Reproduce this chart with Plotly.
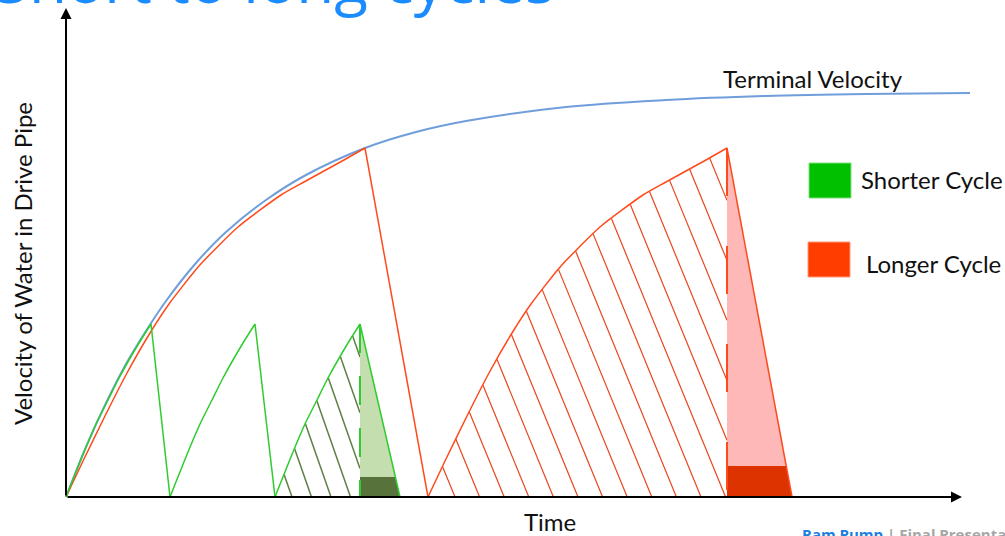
import numpy as np
import plotly.graph_objects as go

W, H = 1005, 536

# ---- data (time, velocity in arbitrary units) ----
terminal_t = [0, 2, 4, 6, 8, 10, 13, 16, 20, 24, 29.9, 35, 40, 50, 60, 70, 80, 90.4]
terminal_v = [0, 5.0, 9.4, 13.3, 16.6, 19.6, 23.4, 26.5, 29.7, 32.2, 34.9, 36.5, 37.6, 39.0, 39.7, 40.1, 40.3, 40.4]

# longer cycle: acceleration phase shape, start of each cycle, time velocity returns to zero
long_rise_dt = [0, 1.7, 3.9, 6.1, 8.4, 10.3, 13.3, 17.2, 21.5, 23.8, 27.8, 29.9]
long_rise_v = [0, 3.6, 8.1, 12.4, 16.4, 19.3, 23.1, 27.0, 30.2, 31.5, 33.7, 34.9]
long_starts = [0, 36.2]
long_ends = [36.2, 72.6]
long_pump_v = 3.1  # height of the delivery band under the last long cycle

# shorter cycle
short_rise_dt = [0, 1.8, 3.0, 4.2, 5.3, 7.3, 8.5]
short_rise_v = [0, 4.5, 7.3, 9.7, 11.9, 15.4, 17.3]
short_starts = [0, 10.4, 20.9]
short_ends = [10.4, 20.9, 33.4]
short_pump_v = 2.0

# axis extents
T_MIN, T_MAX = -6.6, 93.9
V_MIN, V_MAX = -3.9, 49.7
T_ARROW, V_ARROW = 89.6, 48.9

# colours
BLUE = "#6f9edb"
RED = "#ff4a1c"
GREEN = "#2ecc2e"
RED_HATCH = "#e8461e"
GREEN_HATCH = "#5e7f45"
PINK = "#ffb8b8"
RED_DARK = "#dc3300"
LIGHT_GREEN = "#c4deb0"
GREEN_DARK = "#57733b"
FONT = "Lato"
TEXT_SIZE = 24


def px_x(p):
    return p / W


def px_y(p):
    return 1 - p / H


def hatch(start, dt, v, slope, offsets):
    rise_t = start + np.asarray(dt, float)
    rise_v = np.asarray(v, float)
    peak_t = rise_t[-1]
    vv = np.linspace(0, rise_v.max(), 3000)
    xs, ys = [], []
    for b in offsets:
        tt = b - slope * vv
        curve = np.interp(tt, rise_t, rise_v)
        inside = (tt >= rise_t[0]) & (tt <= peak_t) & (vv <= curve)
        idx = np.nonzero(inside)[0]
        if len(idx) < 2:
            continue
        i0, i1 = idx[0], idx[-1]
        xs += [tt[i0], tt[i1], None]
        ys += [vv[i0], vv[i1], None]
    return xs, ys


def release_fill(peak_t, peak_v, end_t, band_v):
    # light triangle under the deceleration line and the dark band at its foot
    tri_x = [peak_t, peak_t, end_t, peak_t]
    tri_y = [peak_v, 0, 0, peak_v]
    band_t = end_t - band_v / peak_v * (end_t - peak_t)
    band_x = [peak_t, peak_t, band_t, end_t, peak_t]
    band_y = [0, band_v, band_v, 0, 0]
    return tri_x, tri_y, band_x, band_y


def add_cycles(fig, starts, ends, dt, v, color, name):
    # smooth acceleration curves
    for s in starts:
        fig.add_trace(go.Scatter(x=[s + d for d in dt], y=v, mode="lines",
                                 line=dict(color=color, width=1.5, shape="spline", smoothing=0.6),
                                 name=name, showlegend=False))
    # straight deceleration lines after each valve closure
    xs, ys = [], []
    for s, e in zip(starts, ends):
        xs += [s + dt[-1], e, None]
        ys += [v[-1], 0, None]
    fig.add_trace(go.Scatter(x=xs, y=ys, mode="lines", line=dict(color=color, width=1.5),
                             name=name, showlegend=False))


fig = go.Figure()

# hatched acceleration areas
lp_start = long_starts[-1]
lx, ly = hatch(lp_start, long_rise_dt, long_rise_v, 0.41, [38.9 + 2.46 * k for k in range(17)])
fig.add_trace(go.Scatter(x=lx, y=ly, mode="lines", line=dict(color=RED_HATCH, width=1.2),
                         hoverinfo="skip", showlegend=False))
sp_start = short_starts[-1]
gx, gy = hatch(sp_start, short_rise_dt, short_rise_v, 0.35, [22.6 + 1.95 * k for k in range(7)])
fig.add_trace(go.Scatter(x=gx, y=gy, mode="lines", line=dict(color=GREEN_HATCH, width=1.5),
                         hoverinfo="skip", showlegend=False))

# release triangles
lpk_t = lp_start + long_rise_dt[-1]
tx, ty, bx, by = release_fill(lpk_t, long_rise_v[-1], long_ends[-1], long_pump_v)
fig.add_trace(go.Scatter(x=tx, y=ty, mode="lines", fill="toself", fillcolor=PINK,
                         line=dict(width=0), hoverinfo="skip", showlegend=False))
fig.add_trace(go.Scatter(x=bx, y=by, mode="lines", fill="toself", fillcolor=RED_DARK,
                         line=dict(width=0), hoverinfo="skip", showlegend=False))
spk_t = sp_start + short_rise_dt[-1]
tx, ty, bx, by = release_fill(spk_t, short_rise_v[-1], short_ends[-1], short_pump_v)
fig.add_trace(go.Scatter(x=tx, y=ty, mode="lines", fill="toself", fillcolor=LIGHT_GREEN,
                         line=dict(width=0), hoverinfo="skip", showlegend=False))
fig.add_trace(go.Scatter(x=bx, y=by, mode="lines", fill="toself", fillcolor=GREEN_DARK,
                         line=dict(width=0), hoverinfo="skip", showlegend=False))

# dashed valve-closing markers
fig.add_trace(go.Scatter(x=[lpk_t, lpk_t], y=[long_rise_v[-1], 0], mode="lines",
                         line=dict(color=RED, width=2, dash="48px,50px"),
                         hoverinfo="skip", showlegend=False))
fig.add_trace(go.Scatter(x=[spk_t, spk_t], y=[short_rise_v[-1], 0], mode="lines",
                         line=dict(color=GREEN, width=2, dash="29px,23px"),
                         hoverinfo="skip", showlegend=False))

# terminal velocity curve
fig.add_trace(go.Scatter(x=terminal_t, y=terminal_v, mode="lines",
                         line=dict(color=BLUE, width=2, shape="spline"),
                         name="Terminal Velocity", showlegend=False))

# cycles
add_cycles(fig, long_starts, long_ends, long_rise_dt, long_rise_v, RED, "Longer Cycle")
add_cycles(fig, short_starts, short_ends, short_rise_dt, short_rise_v, GREEN, "Shorter Cycle")

txt = dict(family=FONT, size=TEXT_SIZE, color="#111111")
annotations = [
    # axes arrows
    dict(x=T_ARROW, y=0, ax=0, ay=0, xref="x", yref="y", axref="x", ayref="y", text="",
         showarrow=True, arrowhead=2, arrowsize=1.1, arrowwidth=2, arrowcolor="black"),
    dict(x=0, y=V_ARROW, ax=0, ay=0, xref="x", yref="y", axref="x", ayref="y", text="",
         showarrow=True, arrowhead=2, arrowsize=1.1, arrowwidth=2, arrowcolor="black"),
    dict(x=px_x(813), y=px_y(78), xref="paper", yref="paper", xanchor="center", yanchor="middle",
         text="Terminal Velocity", showarrow=False, font=txt),
    dict(x=px_x(550), y=px_y(521), xref="paper", yref="paper", xanchor="center", yanchor="middle",
         text="Time", showarrow=False, font=txt),
    dict(x=px_x(22), y=px_y(264), xref="paper", yref="paper", xanchor="center", yanchor="middle",
         text="Velocity of Water in Drive Pipe", showarrow=False, textangle=-90, font=txt),
    dict(x=px_x(859), y=px_y(180), xref="paper", yref="paper", xanchor="left", yanchor="middle",
         text="Shorter Cycle", showarrow=False, font=txt),
    dict(x=px_x(864), y=px_y(263), xref="paper", yref="paper", xanchor="left", yanchor="middle",
         text="Longer Cycle", showarrow=False, font=txt),
    dict(x=px_x(557), y=px_y(23), xref="paper", yref="paper", xanchor="right", yanchor="bottom",
         text="Short to long cycles", showarrow=False,
         font=dict(family="Open Sans", size=62, color="#1a8cff")),
    dict(x=px_x(800), y=px_y(522), xref="paper", yref="paper", xanchor="left", yanchor="top",
         text="<b><span style='color:#1a7fe0'>Ram Pump</span> <span style='color:#a6a6a6'>| Final Presentation</span></b>",
         showarrow=False, font=dict(family="Open Sans", size=15)),
]

shapes = [
    dict(type="rect", xref="paper", yref="paper", x0=px_x(809), x1=px_x(851), y0=px_y(198), y1=px_y(163),
         fillcolor="#00c000", line=dict(color="#7fe07f", width=1)),
    dict(type="rect", xref="paper", yref="paper", x0=px_x(808), x1=px_x(850), y0=px_y(277), y1=px_y(242),
         fillcolor="#ff3d00", line=dict(color="#ff9a7a", width=1)),
]

fig.update_layout(
    width=W, height=H,
    margin=dict(l=0, r=0, t=0, b=0),
    paper_bgcolor="white", plot_bgcolor="white",
    xaxis=dict(range=[T_MIN, T_MAX], visible=False, fixedrange=True),
    yaxis=dict(range=[V_MIN, V_MAX], visible=False, fixedrange=True),
    annotations=annotations, shapes=shapes,
    showlegend=False,
)

fig.write_html("out.html")
